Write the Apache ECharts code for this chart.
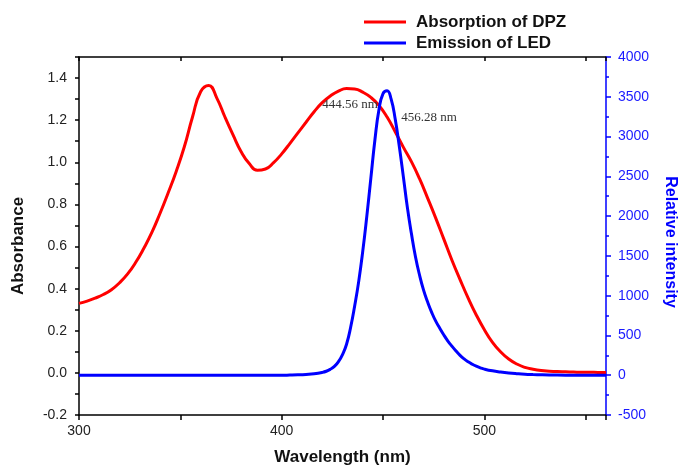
<!DOCTYPE html>
<html>
<head>
<meta charset="utf-8">
<script src="https://cdn.jsdelivr.net/npm/echarts@6/dist/echarts.min.js"></script>
<style>
  html, body { margin: 0; padding: 0; background: #fff; }
  #chart { width: 679px; height: 468px; }
</style>
</head>
<body>
<div id="chart"></div>
<script>
// absorption of DPZ (left axis), every 4 nm
var absWave = [300, 304, 308, 312, 316, 320, 324, 328, 332, 336, 340, 344, 348, 352, 356, 360, 364, 368,
  372, 376, 380, 384, 388, 392, 396, 400, 404, 408, 412, 416, 420, 424, 428, 432, 436, 440, 444, 448,
  452, 456, 460, 464, 468, 472, 476, 480, 484, 488, 492, 496, 500, 504, 508, 512, 516, 520, 524, 528,
  532, 536, 540, 544, 548, 552, 556, 560];
var absValues = [0.330, 0.341, 0.355, 0.372, 0.395, 0.428, 0.470, 0.525, 0.592, 0.668, 0.758, 0.855,
  0.958, 1.075, 1.215, 1.335, 1.365, 1.305, 1.215, 1.130, 1.050, 0.994, 0.962, 0.968, 0.998, 1.040,
  1.089, 1.140, 1.190, 1.240, 1.283, 1.315, 1.338, 1.350, 1.348, 1.333, 1.308, 1.270, 1.215, 1.145,
  1.072, 1.003, 0.922, 0.830, 0.735, 0.635, 0.535, 0.443, 0.355, 0.275, 0.205, 0.145, 0.100, 0.066,
  0.042, 0.026, 0.017, 0.011, 0.008, 0.006, 0.005, 0.004, 0.003, 0.003, 0.002, 0.002];

// emission of LED (right axis)
var emWave = [300, 350, 400, 404, 408, 412, 416, 420, 422, 424, 426, 428, 430, 432, 434, 436, 438, 440,
  442, 444, 446, 448, 450, 452, 454, 456, 458, 460, 462, 464, 466, 468, 470, 472, 474, 476, 478, 480,
  482, 484, 486, 488, 490, 492, 494, 496, 498, 500, 504, 508, 512, 516, 520, 524, 528, 532, 540, 548, 560];
var emValues = [0, 0, 0, 2, 5, 10, 18, 35, 50, 75, 110, 170, 260, 390, 600, 870, 1180, 1560,
  2000, 2480, 2960, 3340, 3540, 3575, 3470, 3220, 2880, 2500, 2110, 1780, 1490, 1260, 1070, 920, 790,
  680, 590, 505, 430, 365, 305, 250, 205, 168, 138, 113, 93, 77, 55, 40, 28, 19, 12, 8, 5, 3, 1, 0, 0];

var seriesNames = ['Absorption of DPZ', 'Emission of LED'];

// peak notes, placed in absorbance units
var noteText = ['444.56 nm', '456.28 nm'];
var noteX = [420, 459];
var noteY = [1.276, 1.21];

function pairs(xs, ys) {
  var out = [];
  for (var i = 0; i < xs.length; i++) out.push([xs[i], ys[i]]);
  return out;
}

var notes = [];
for (var i = 0; i < noteText.length; i++) {
  notes.push({ coord: [noteX[i], noteY[i]], value: noteText[i] });
}

var font = 'Liberation Sans, Arial, sans-serif';
var blue = '#0000ff';

var myChart = echarts.init(document.getElementById('chart'));

var options = {
  animation: false,
  backgroundColor: '#fff',
  grid: { left: 79, right: 73, top: 57, bottom: 53, outerBoundsMode: 'none' },
  legend: {
    data: seriesNames,
    orient: 'vertical',
    left: 364,
    top: 12,
    padding: 0,
    icon: 'rect',
    itemWidth: 42,
    itemHeight: 3,
    itemGap: 1,
    textStyle: { fontFamily: font, fontSize: 17, fontWeight: 'bold', color: '#111', lineHeight: 20, padding: [0, 0, 0, 5] }
  },
  xAxis: [
    {
      type: 'value',
      position: 'bottom',
      min: 300,
      max: 560,
      interval: 50,
      axisLine: { onZero: false, lineStyle: { color: '#000', width: 1.5 } },
      axisTick: { inside: false, length: 5, lineStyle: { color: '#000', width: 1.5 } },
      axisLabel: {
        margin: 9, fontFamily: font, fontSize: 14, color: '#222',
        formatter: function (v) { return v % 100 === 0 ? String(v) : ''; }
      },
      splitLine: { show: false },
      name: 'Wavelength (nm)',
      nameLocation: 'middle',
      nameGap: 34,
      nameTextStyle: { fontFamily: font, fontSize: 17, fontWeight: 'bold', color: '#111' }
    },
    {
      type: 'value',
      position: 'top',
      min: 300,
      max: 560,
      interval: 50,
      axisLine: { onZero: false, lineStyle: { color: '#000', width: 1.5 } },
      axisTick: { inside: true, length: 4, lineStyle: { color: '#000', width: 1.5 } },
      axisLabel: { show: false },
      splitLine: { show: false }
    }
  ],
  yAxis: [
    {
      type: 'value',
      position: 'left',
      min: -0.2,
      max: 1.5,
      interval: 0.1,
      axisLine: { show: true, onZero: false, lineStyle: { color: '#000', width: 1.5 } },
      axisTick: { show: true, length: 4, lineStyle: { color: '#000', width: 1.5 } },
      axisLabel: {
        margin: 12, fontFamily: font, fontSize: 14, color: '#222',
        formatter: function (v) { return Math.round(v * 10) % 2 === 0 ? v.toFixed(1) : ''; }
      },
      splitLine: { show: false },
      name: 'Absorbance',
      nameLocation: 'middle',
      nameRotate: 90,
      nameGap: 52,
      nameTextStyle: { fontFamily: font, fontSize: 17, fontWeight: 'bold', color: '#111', padding: [0, 20, 0, 0] }
    },
    {
      type: 'value',
      position: 'right',
      min: -500,
      max: 4000,
      interval: 500,
      axisLine: { show: true, onZero: false, lineStyle: { color: blue, width: 1.5 } },
      axisTick: { show: true, length: 5, lineStyle: { color: blue, width: 1.5 } },
      minorTick: { show: true, splitNumber: 2, length: 3, lineStyle: { color: blue, width: 1.5 } },
      axisLabel: {
        margin: 12, fontFamily: font, fontSize: 14, color: '#1a1aff',
        formatter: function (v) { return String(v); }
      },
      splitLine: { show: false },
      name: 'Relative intensity',
      nameLocation: 'middle',
      nameRotate: -90,
      nameGap: 56,
      nameTextStyle: { fontFamily: font, fontSize: 16, fontWeight: 'bold', color: blue, padding: [0, 0, 0, 12] }
    }
  ],
  series: [
    {
      name: seriesNames[0],
      type: 'line',
      xAxisIndex: 0,
      yAxisIndex: 0,
      color: '#ff0000',
      symbol: 'none',
      smooth: 0.5,
      lineStyle: { color: '#ff0000', width: 3 },
      data: pairs(absWave, absValues),
      markPoint: {
        symbol: 'circle',
        symbolSize: 0,
        silent: true,
        label: {
          show: true, position: 'right', distance: 0,
          fontFamily: 'Liberation Serif, Times New Roman, serif', fontSize: 13, color: '#333',
          formatter: function (p) { return p.value; }
        },
        data: notes
      },
      z: 2
    },
    {
      name: seriesNames[1],
      type: 'line',
      xAxisIndex: 0,
      yAxisIndex: 1,
      color: blue,
      symbol: 'none',
      smooth: 0.5,
      lineStyle: { color: blue, width: 3 },
      data: pairs(emWave, emValues),
      z: 3
    }
  ]
};

myChart.setOption(options, true);
</script>
</body>
</html>
